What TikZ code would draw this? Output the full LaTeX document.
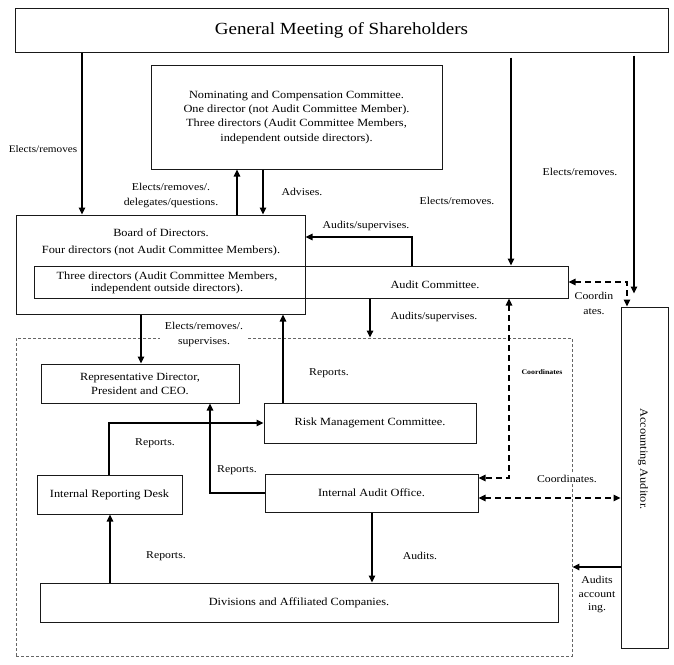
\documentclass[tikz,border=0pt]{standalone}
\usepackage{fontspec}
\setmainfont{Liberation Serif}[FakeStretch=1.12]
\usetikzlibrary{arrows.meta}
\begin{document}
\begin{tikzpicture}[x=1pt,y=-1pt,
  box/.style={draw=black!90, line width=1pt, inner sep=0pt, align=center, font=\fontsize{11}{14}\selectfont},
  txt/.style={inner sep=0pt, align=center, font=\fontsize{11}{14}\selectfont},
  lbl/.style={inner sep=1.5pt, align=center, font=\fontsize{10.5}{15}\selectfont},
  arr/.style={line width=1.5pt, -{Triangle[length=7pt,width=6.5pt]}},
  darr/.style={line width=1.5pt, dash pattern=on 6pt off 4pt, {Triangle[length=7pt,width=6.5pt]}-{Triangle[length=7pt,width=6.5pt]}},
  grpbox/.style={draw=black!60, line width=0.9pt, dash pattern=on 3pt off 2pt, inner sep=0pt}
]
\useasboundingbox (0,0) rectangle (674,664);

% group (dashed) box
\node[grpbox, minimum width=556pt, minimum height=318pt] (grp) at (294,497) {};

% boxes
\node[box, minimum width=653pt, minimum height=44pt, font=\fontsize{17}{20}\selectfont] (gm) at (341.5,30) {General Meeting of Shareholders};
\node[box, minimum width=291pt, minimum height=104pt, font=\fontsize{11}{14.3}\selectfont] (nom) at (296.5,117) {Nominating and Compensation Committee.\\One director (not Audit Committee Member).\\Three directors (Audit Committee Members,\\independent outside directors).};
\node[box, minimum width=289pt, minimum height=99pt] (board) at (160.5,264.5) {};
\node[txt] (boardtxt) at (161,242.5) {Board of Directors.\\[3pt]Four directors (not Audit Committee Members).};
\node[box, minimum width=534pt, minimum height=32pt] (ac) at (301,282) {};
\node[txt, font=\fontsize{11}{12.5}\selectfont] (actxt1) at (167,283) {Three directors (Audit Committee Members,\\independent outside directors).};
\node[txt] (actxt2) at (435,285) {Audit Committee.};
\node[box, minimum width=47pt, minimum height=341pt] (aa) at (644.5,477.5) {};
\node[txt, rotate=-90] (aatxt) at (643,459) {Accounting Auditor.};
\node[box, minimum width=198pt, minimum height=39pt] (rep) at (140,383.5) {Representative Director,\\President and CEO.};
\node[box, minimum width=212pt, minimum height=40pt] (rmc) at (370,423) {Risk Management Committee.};
\node[box, minimum width=145pt, minimum height=39pt] (ird) at (109.5,494.5) {Internal Reporting Desk};
\node[box, minimum width=213pt, minimum height=38pt] (iao) at (371.5,493) {Internal Audit Office.};
\node[box, minimum width=518pt, minimum height=39pt] (div) at (299,602.5) {Divisions and Affiliated Companies.};

% connectors
\draw[arr] (82,0 |- gm.south) -- (82,0 |- board.north);
\node[lbl, font=\fontsize{10}{12}\selectfont] (l1) at (43,149) {Elects/removes};

\draw[arr] (237,0 |- board.north) -- (237,0 |- nom.south);
\draw[arr] (263,0 |- nom.south) -- (263,0 |- board.north);
\node[lbl] (l2) at (171,195.5) {Elects/removes/.\\delegates/questions.};
\node[lbl] (l3) at (302,192) {Advises.};

\draw[arr, shorten <=5pt] (511,0 |- gm.south) -- (511,0 |- ac.north);
\node[lbl] (l4) at (457,201) {Elects/removes.};

\draw[arr, shorten <=3pt, shorten >=13pt] (634,0 |- gm.south) -- (634,0 |- aa.north);
\node[lbl] (l5) at (580,172) {Elects/removes.};

\draw[arr] (412,0 |- ac.north) |- (board.east |- 0,237);
\node[lbl] (l6) at (366,226) {Audits/supervises.};

\draw[darr] (ac.east) -| (627,0 |- aa.north);
\node[lbl, font=\fontsize{10.5}{15}\selectfont] (l7) at (594,303.5) {Coordin\\ates.};

\draw[arr] (141,0 |- board.south) -- (141,0 |- rep.north);
\node[lbl, fill=white, inner xsep=5pt] (l8) at (204,334.5) {Elects/removes/.\\supervises.};

\draw[arr] (283,0 |- rmc.north) -- (283,0 |- board.south);
\node[lbl] (l9) at (329,373) {Reports.};

\draw[arr] (370,0 |- ac.south) -- (370,0 |- grp.north);
\node[lbl] (l10) at (434,317) {Audits/supervises.};

\draw[darr] (509,0 |- ac.south) |- (iao.east |- 0,478);
\node[lbl, font=\bfseries\fontsize{7}{8}\selectfont] (l11) at (542,372) {Coordinates};

\draw[arr] (109,0 |- ird.north) |- (rmc.west);
\node[lbl] (l12) at (155,443) {Reports.};

\draw[arr] (iao.west) -| (210,0 |- rep.south);
\node[lbl] (l13) at (237,470) {Reports.};

\draw[darr] (iao.east |- 0,498) -- (aa.west |- 0,498);
\node[lbl, fill=white] (l14) at (567,479) {Coordinates.};

\draw[arr] (110,0 |- div.north) -- (110,0 |- ird.south);
\node[lbl] (l15) at (166,556) {Reports.};

\draw[arr] (372,0 |- iao.south) -- (372,0 |- div.north);
\node[lbl] (l16) at (420,556) {Audits.};

\draw[arr] (aa.west |- 0,567) -- (grp.east |- 0,567);
\node[lbl, font=\fontsize{10.5}{13.5}\selectfont] (l17) at (597,594.5) {Audits\\account\\ing.};
\end{tikzpicture}
\end{document}
